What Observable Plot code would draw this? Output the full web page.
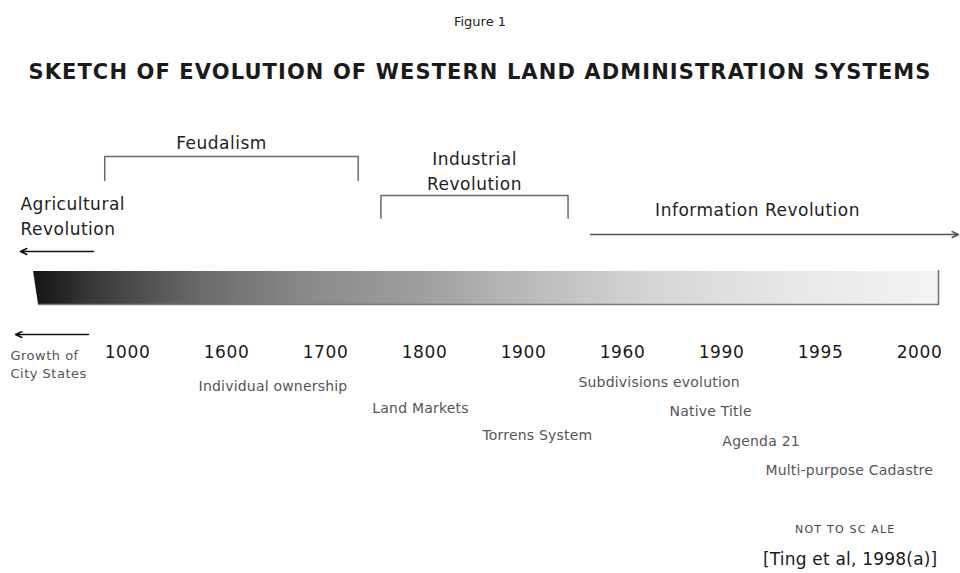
<!DOCTYPE html>
<html>
<head>
<meta charset="utf-8">
<script src="https://cdn.jsdelivr.net/npm/d3@7"></script>
<script src="https://cdn.jsdelivr.net/npm/@observablehq/plot@0.6"></script>
<style>
  html, body { margin: 0; padding: 0; background: #fff; }
  body { width: 960px; height: 573px; overflow: hidden; font-family: "DejaVu Sans", sans-serif; }
  #head { position: relative; height: 100px; }
  #fig { position: absolute; top: 12px; left: 0; width: 960px; text-align: center; font-size: 13px; line-height: 20px; color: #222; }
  #title { position: absolute; top: 60px; left: 0; width: 960px; text-align: center; font-size: 21px; font-weight: bold; line-height: 24px; letter-spacing: 1.1px; color: #1a1a1a; white-space: nowrap; }
  #chart svg { display: block; }
</style>
</head>
<body>
<div id="head">
  <div id="fig">Figure 1</div>
  <div id="title">SKETCH OF EVOLUTION OF WESTERN LAND ADMINISTRATION SYSTEMS</div>
</div>
<div id="chart"></div>
<script>
// ---- data (timeline "slots": year i sits at slot i) ----
const years = ["1000", "1600", "1700", "1800", "1900", "1960", "1990", "1995", "2000"];

const eraNames = ["Feudalism", "Industrial\nRevolution"];
const eraFrom  = [-0.23, 2.56];
const eraTo    = [2.33, 4.45];
const eraRow   = [0, 1];

const openEras = ["Agricultural\nRevolution", "Information Revolution"];

const eventLabels = ["Individual ownership", "Land Markets", "Torrens System",
                     "Subdivisions evolution", "Native Title", "Agenda 21", "Multi-purpose Cadastre"];
const eventSlot   = [1.47, 2.96, 4.14, 5.37, 5.89, 6.40, 7.29];
const eventRow    = [1.14, 1.89, 2.81, 1.0, 2.0, 3.0, 4.0];

const leftNote = "Growth of\nCity States";
const scaleNote = "NOT TO SC ALE";
const source = "[Ting et al, 1998(a)]";

// ---- layout helpers (vertical levels; bar spans -0.5..0.5) ----
const U = 33;                 // px per level
const H = 473;                // svg height
const bracketTop = [3.985, 2.80], bracketBot = [3.26, 2.11], eraTextLevel = [4.44, 3.58];
const eventLevel = r => -2.86 - 0.89 * (r - 1);

const eras = eraNames.map((name, i) => ({name, from: eraFrom[i], to: eraTo[i], row: eraRow[i]}));
const bracketPts = eras.flatMap(e => [
  {era: e.name, x: e.from, y: bracketBot[e.row]},
  {era: e.name, x: e.from, y: bracketTop[e.row]},
  {era: e.name, x: e.to,   y: bracketTop[e.row]},
  {era: e.name, x: e.to,   y: bracketBot[e.row]}
]);
const events = eventLabels.map((label, i) => ({label, slot: eventSlot[i], level: eventLevel(eventRow[i])}));

const barLeftTop = -0.949, barLeftBot = -0.899, barRight = 8.192;
const bar = [
  {y: 0.5,  x1: barLeftTop, x2: barRight},
  {y: -0.5, x1: barLeftBot, x2: barRight}
];
const barEdge = [
  {x: barLeftBot, y: -0.5}, {x: barRight, y: -0.5}, {x: barRight, y: 0.53}
];

const arrows = [
  {x1: -0.343, x2: -1.081, y: 1.106, c: "#111"},
  {x1: -0.394, x2: -1.131, y: -1.41, c: "#111"},
  {x1: 4.677,  x2: 8.394,  y: 1.62,  c: "#555"}
];

const font = "'DejaVu Sans', sans-serif";

const plot = Plot.plot({
  width: 960,
  height: H,
  margin: 0,
  style: {fontFamily: font, background: "white", overflow: "visible"},
  x: {domain: [-127 / 99, 833 / 99], axis: null},
  y: {domain: [-(H - 187.5) / U, 187.5 / U], axis: null},
  marks: [
    Plot.areaX(bar, {y: "y", x1: "x1", x2: "x2", fill: "url(#barGrad)"}),
    Plot.line(barEdge, {x: "x", y: "y", stroke: "#777", strokeWidth: 1.6}),
    Plot.line(bracketPts, {x: "x", y: "y", z: "era", stroke: "#6a6a6a", strokeWidth: 1.5}),
    Plot.arrow(arrows, {x1: "x1", x2: "x2", y1: "y", y2: "y", stroke: "c", strokeWidth: 1.5, headLength: 7, headAngle: 50}),
    Plot.text(eras, {x: e => (e.from + e.to) / 2 + (e.row === 0 ? -0.1 : 0), y: e => eraTextLevel[e.row], text: "name",
      fontSize: 17, lineHeight: 1.47, fill: "#222", ariaDescription: "eras"}),
    Plot.text([openEras[0]], {x: () => -1.081, y: () => 2.24, text: d => d, textAnchor: "start",
      fontSize: 17, lineHeight: 1.47, fill: "#222", ariaDescription: "eras"}),
    Plot.text([openEras[1]], {x: () => 6.364, y: () => 2.35, text: d => d,
      fontSize: 17, fill: "#222", ariaDescription: "eras"}),
    Plot.text(years, {x: (d, i) => i, y: () => -1.955, text: d => d,
      fontSize: 17, fill: "#1a1a1a", ariaDescription: "years"}),
    Plot.text([leftNote], {x: () => -1.182, y: () => -2.27, text: d => d, textAnchor: "start",
      fontSize: 13, lineHeight: 1.45, fill: "#555", ariaDescription: "notes"}),
    Plot.text(events, {x: "slot", y: "level", text: "label",
      fontSize: 14, fill: "#555", ariaDescription: "events"}),
    Plot.text([scaleNote], {x: () => 7.25, y: () => -7.32, text: d => d,
      fontSize: 11, fill: "#444", ariaDescription: "scale"}),
    Plot.text([source], {x: () => 7.30, y: () => -8.23, text: d => d,
      fontSize: 17, fill: "#1a1a1a", ariaDescription: "source"})
  ]
});

// gradient definition for the evolution bar
const svg = d3.select(plot);
const grad = svg.insert("defs", ":first-child").append("linearGradient")
  .attr("id", "barGrad").attr("x1", 0).attr("x2", 1).attr("y1", 0).attr("y2", 0);
[[0, "#151515"], [0.074, "#3c3c3c"], [0.185, "#6a6a6a"], [0.295, "#888888"], [0.428, "#9e9e9e"],
 [0.538, "#b8b8b8"], [0.682, "#d5d5d5"], [0.848, "#e8e8e8"], [1, "#f3f3f3"]]
  .forEach(([o, c]) => grad.append("stop").attr("offset", o).attr("stop-color", c));

// letter spacing per text group
const spacing = {eras: "0.5px", years: "0.6px", notes: "0.5px", events: "0.2px", scale: "1.2px", source: "0.2px"};
Object.entries(spacing).forEach(([k, v]) => svg.selectAll(`g[aria-description="${k}"] text`).style("letter-spacing", v));

document.getElementById("chart").appendChild(plot);
</script>
</body>
</html>
